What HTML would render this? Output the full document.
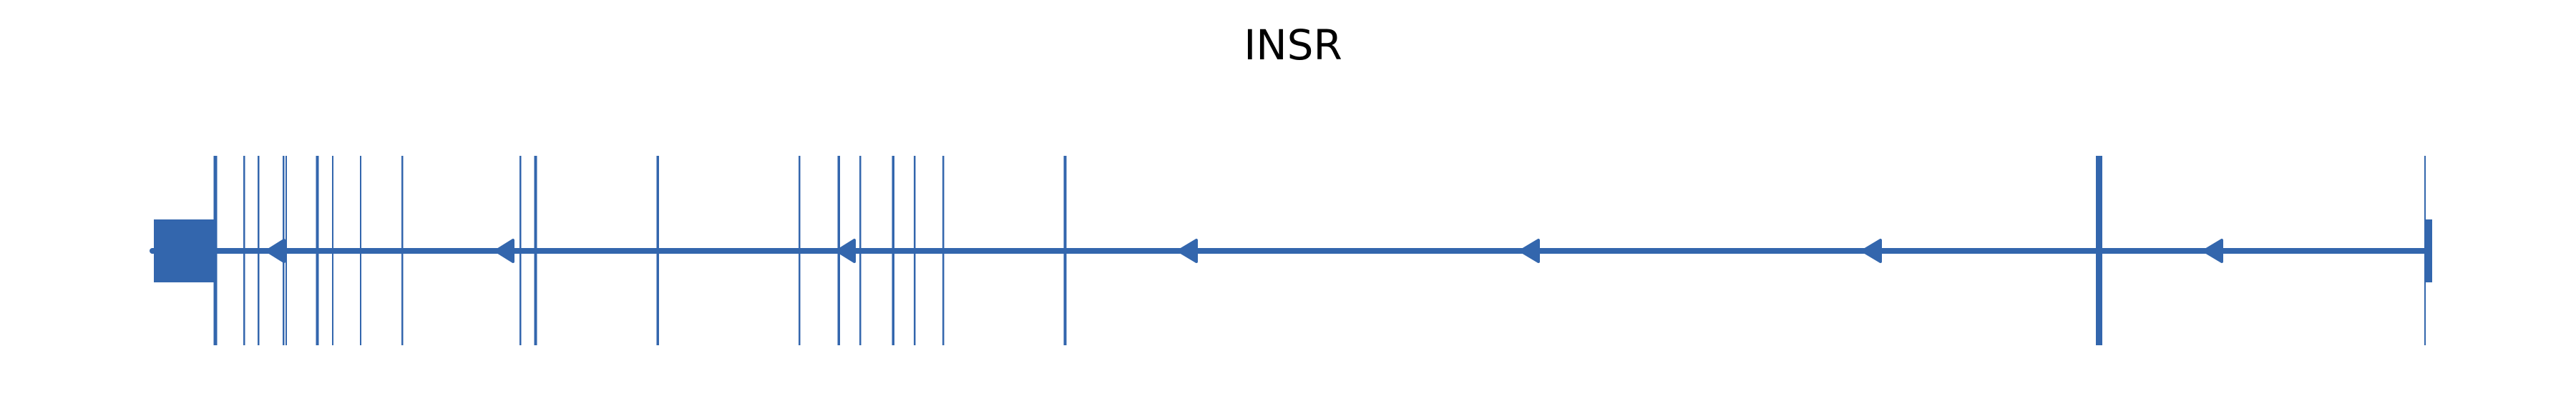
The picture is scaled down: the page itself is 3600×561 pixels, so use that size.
<!DOCTYPE html>
<html><head><meta charset="utf-8"><style>
html,body{margin:0;padding:0;background:#fff;width:3600px;height:561px;overflow:hidden}
</style></head><body>
<svg width="3600" height="561" viewBox="0 0 3600 561" xmlns="http://www.w3.org/2000/svg">
<text x="1807" y="83" text-anchor="middle" font-family="DejaVu Sans, Liberation Sans, sans-serif" font-size="58" fill="#000">INSR</text>
<g fill="#3366ad" stroke="none">
<rect x="212" y="347" width="3180" height="8"/>
<circle cx="213" cy="351" r="4"/>
<rect x="215" y="307" width="88" height="88"/>
<rect x="3388" y="307" width="11" height="88"/>
<rect x="298.5" y="218" width="5" height="265"/>
<rect x="340" y="218" width="2.5" height="265"/>
<rect x="360" y="218" width="2.5" height="265"/>
<rect x="395" y="218" width="2.5" height="265"/>
<rect x="399" y="218" width="2" height="265"/>
<rect x="441.5" y="218" width="4" height="265"/>
<rect x="464" y="218" width="2" height="265"/>
<rect x="503" y="218" width="2" height="265"/>
<rect x="561" y="218" width="2.5" height="265"/>
<rect x="726" y="218" width="2.5" height="265"/>
<rect x="746.5" y="218" width="4" height="265"/>
<rect x="917.5" y="218" width="3.5" height="265"/>
<rect x="1116" y="218" width="2.5" height="265"/>
<rect x="1170.5" y="218" width="3.5" height="265"/>
<rect x="1201" y="218" width="2.5" height="265"/>
<rect x="1246.5" y="218" width="3.5" height="265"/>
<rect x="1277" y="218" width="2.5" height="265"/>
<rect x="1317" y="218" width="2.5" height="265"/>
<rect x="1486.5" y="218" width="4" height="265"/>
<rect x="2929" y="218" width="9" height="265"/>
<rect x="3388" y="218" width="2" height="265"/>
</g>
<g fill="#3366ad" stroke="#3366ad" stroke-width="4" stroke-linejoin="round">
<polygon points="373,351 397,336 397,366"/>
<polygon points="693,351 717,336 717,366"/>
<polygon points="1170,351 1194,336 1194,366"/>
<polygon points="1647,351 1672,336 1672,366"/>
<polygon points="2125,351 2150,336 2150,366"/>
<polygon points="2603,351 2628,336 2628,366"/>
<polygon points="3080,351 3105,336 3105,366"/>
</g>
</svg>
</body></html>
